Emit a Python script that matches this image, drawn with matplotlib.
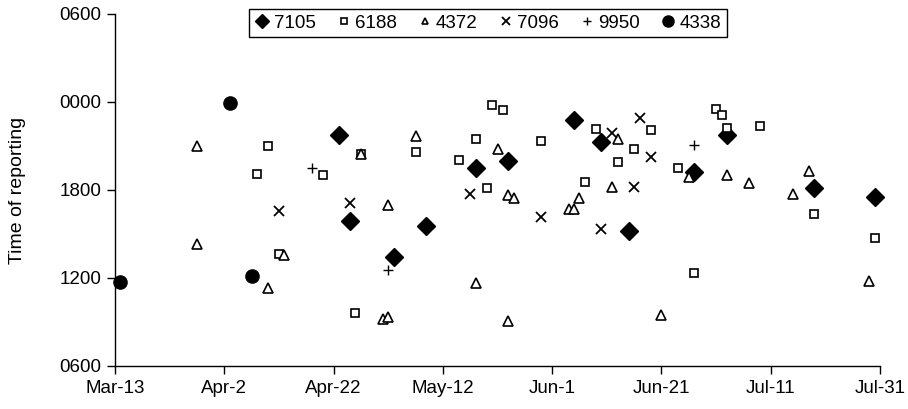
import matplotlib
matplotlib.use("Agg")
import matplotlib.pyplot as plt
from matplotlib.lines import Line2D
from datetime import datetime

plt.rcParams['font.family'] = ['Liberation Sans', 'DejaVu Sans']

YEAR = 2007

# ---- data: (date, time of reporting) per bird ----
s7105_dates = ["Apr-23", "Apr-25", "May-3", "May-9", "May-18", "May-24", "Jun-5", "Jun-10",
               "Jun-15", "Jun-27", "Jul-3", "Jul-19", "Jul-30"]
s7105_times = ["21:46", "15:52", "13:25", "15:32", "19:28", "20:00", "22:45", "21:15",
               "15:14", "19:15", "21:47", "18:07", "17:30"]

s6188_dates = ["Apr-8", "Apr-10", "Apr-12", "Apr-20", "Apr-27", "Apr-26", "May-7", "May-15",
               "May-18", "May-20", "May-21", "May-23", "May-30", "Jun-7", "Jun-9", "Jun-13",
               "Jun-16", "Jun-19", "Jun-24", "Jun-27", "Jul-1", "Jul-2", "Jul-3", "Jul-9",
               "Jul-19", "Jul-30"]
s6188_times = ["19:05", "21:02", "13:38", "19:00", "20:26", "09:37", "20:35", "20:01",
               "21:27", "18:08", "23:46", "23:26", "21:22", "18:34", "22:10", "19:56",
               "20:46", "22:04", "19:30", "12:20", "23:31", "23:07", "22:15", "22:20",
               "16:20", "14:44"]

s4372_dates = ["Mar-28", "Mar-28", "Apr-13", "Apr-10", "Apr-27", "May-1", "May-2", "May-2",
               "May-7", "May-22", "May-24", "May-25", "May-18", "May-24", "Jun-4", "Jun-5",
               "Jun-6", "Jun-13", "Jun-12", "Jun-21", "Jun-26", "Jul-3", "Jul-7", "Jul-15",
               "Jul-18", "Jul-29"]
s4372_times = ["20:59", "14:20", "13:35", "11:19", "20:26", "09:12", "09:20", "16:57",
               "21:40", "20:47", "17:38", "17:27", "11:41", "09:04", "16:42", "16:42",
               "17:29", "21:30", "18:11", "09:28", "18:55", "19:03", "18:30", "17:43",
               "19:16", "11:46"]

s7096_dates = ["Apr-12", "Apr-25", "May-17", "May-30", "Jun-10", "Jun-12", "Jun-16", "Jun-17",
               "Jun-19"]
s7096_times = ["16:33", "17:08", "17:45", "16:08", "15:22", "21:53", "18:11", "22:53",
               "20:17"]

s9950_dates = ["Apr-18", "May-2", "Jun-27"]
s9950_times = ["19:28", "12:31", "21:04"]

s4338_dates = ["Mar-14", "Apr-3", "Apr-7"]
s4338_times = ["11:45", "23:56", "12:08"]

series_names = ["7105", "6188", "4372", "7096", "9950", "4338"]
ytick_labels = ["0600", "1200", "1800", "0000", "0600"]
xtick_dates = ["Mar-13", "Apr-2", "Apr-22", "May-12", "Jun-1", "Jun-21", "Jul-11", "Jul-31"]


def to_date(s):
    return datetime.strptime(f"{s}-{YEAR}", "%b-%d-%Y")


def to_hours(t):
    hh, mm = t.split(":")
    return (int(hh) + int(mm) / 60.0 - 6.0) % 24.0


series = [
    (s7105_dates, s7105_times, dict(marker="D", ms=9, mfc="black", mec="black", mew=1.0)),
    (s6188_dates, s6188_times, dict(marker="s", ms=5.5, mfc="white", mec="black", mew=1.2)),
    (s4372_dates, s4372_times, dict(marker="^", ms=6.5, mfc="white", mec="black", mew=1.2)),
    (s7096_dates, s7096_times, dict(marker="x", ms=7, mfc="none", mec="black", mew=1.3)),
    (s9950_dates, s9950_times, dict(marker="+", ms=7, mfc="none", mec="black", mew=1.0)),
    (s4338_dates, s4338_times, dict(marker="o", ms=9.5, mfc="black", mec="black", mew=1.0)),
]
legend_ms = [7, 4, 4.5, 5.5, 6, 8]

fig = plt.figure(figsize=(9.08, 4.09), dpi=100)
ax = fig.add_axes([115 / 908, 1 - 366 / 409, 765 / 908, (366 - 14) / 409])

handles = []
for (dates, times, style), name, lms in zip(series, series_names, legend_ms):
    xs = [to_date(d) for d in dates]
    ys = [to_hours(t) for t in times]
    ax.plot(xs, ys, linestyle="none", zorder=3, clip_on=False, **style)
    hs = dict(style)
    hs["ms"] = lms
    handles.append(Line2D([], [], linestyle="none", **hs))

ax.set_ylim(0, 24)
ax.set_yticks([0, 6, 12, 18, 24])
ax.set_yticklabels(ytick_labels)

xt = [to_date(d) for d in xtick_dates]
ax.set_xlim(xt[0], xt[-1])
ax.set_xticks(xt)
ax.set_xticklabels(xtick_dates)

for sp in ["top", "right"]:
    ax.spines[sp].set_visible(False)
for sp in ["left", "bottom"]:
    ax.spines[sp].set_linewidth(1.0)
    ax.spines[sp].set_color("black")
ax.tick_params(axis="both", direction="out", length=6, width=1.0, colors="black",
               labelsize=13.5, pad=4)
ax.set_ylabel("Time of reporting", fontsize=14)
ax.yaxis.set_label_coords(-(115 - 26) / 765, 0.5)

leg = fig.legend(handles, series_names, loc="upper center",
                 bbox_to_anchor=(488 / 908, 1 - 9 / 409), borderaxespad=0, ncol=6,
                 fontsize=13.5, frameon=True, fancybox=False, edgecolor="black",
                 framealpha=1, handlelength=0.8, handletextpad=0.2, columnspacing=1.1,
                 borderpad=0.3)
leg.get_frame().set_linewidth(1.0)

fig.savefig("out.png", dpi=100)
